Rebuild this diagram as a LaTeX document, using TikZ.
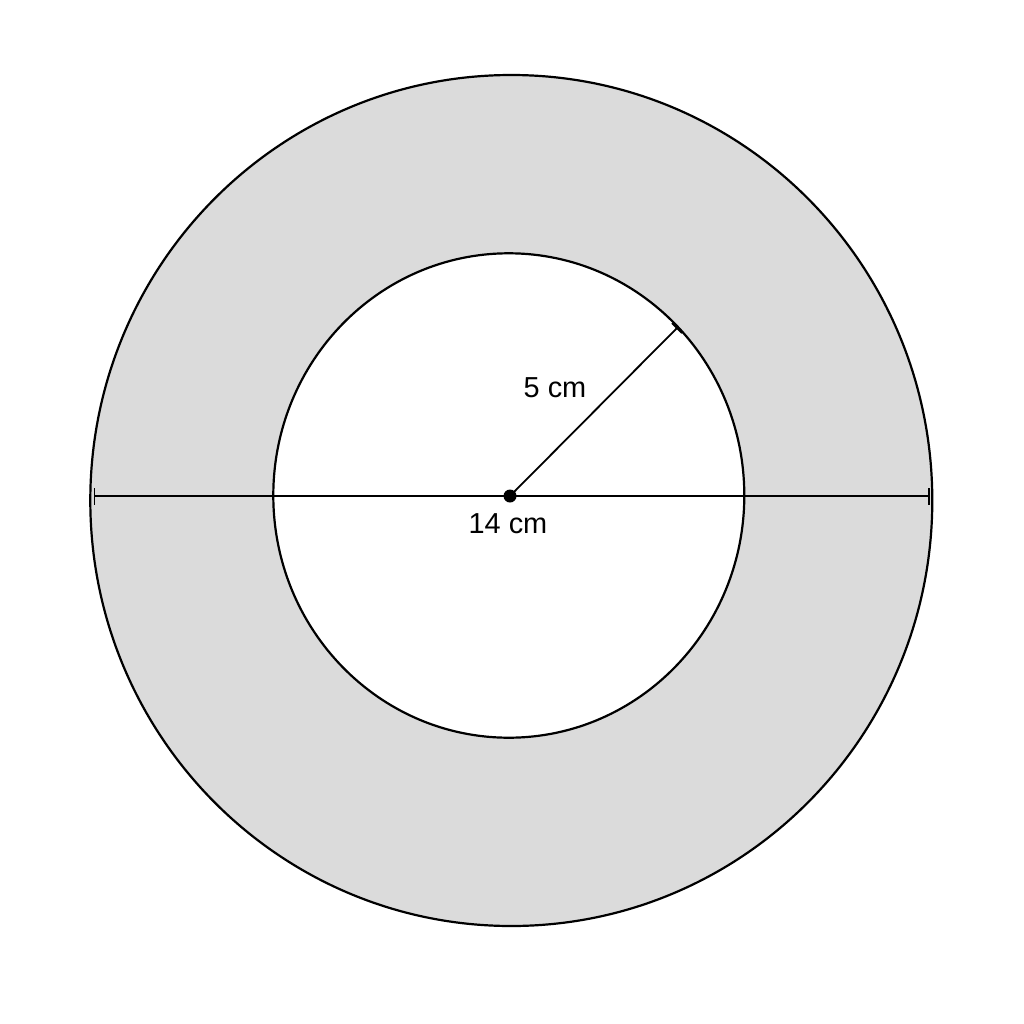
\documentclass[tikz,border=0pt]{standalone}
\usepackage{fontspec}
\setmainfont{Liberation Sans}
\definecolor{ringgray}{RGB}{219,219,219}
\begin{document}
\begin{tikzpicture}[x=1bp,y=-1bp,
  circ/.style={draw=black,line width=2.2bp},
  dimline/.style={draw=black,line width=1.8bp},
  lbl/.style={inner sep=0pt,font=\fontsize{29}{34}\selectfont}]
\useasboundingbox (0,0) rectangle (1024,1024);
\fill[ringgray,even odd rule] (511.3,500.5) ellipse [x radius=421,y radius=425.5]
  (508.8,495.5) ellipse [x radius=235.5,y radius=242.2];
\draw[circ] (511.3,500.5) ellipse [x radius=421,y radius=425.5];
\draw[circ] (508.8,495.5) ellipse [x radius=235.5,y radius=242.2];
\coordinate (c) at (510,496);
\coordinate (L) at (94.5,496);
\coordinate (R) at (929,496);
\coordinate (P) at (677,328);
\draw[dimline] (L) -- (R);
\draw[dimline] ([yshift=-8.5bp]L) -- ([yshift=8.5bp]L);
\draw[dimline] ([yshift=-8.5bp]R) -- ([yshift=8.5bp]R);
\draw[dimline] (c) -- (P);
\draw[dimline] ([shift={(-5,-5)}]P) -- ([shift={(5,5)}]P);
\fill[black] (c) circle [radius=6.5];
\node[lbl] (r) at (555,388) {5 cm};
\node[lbl] (d) at (508,524) {14 cm};
\end{tikzpicture}
\end{document}
